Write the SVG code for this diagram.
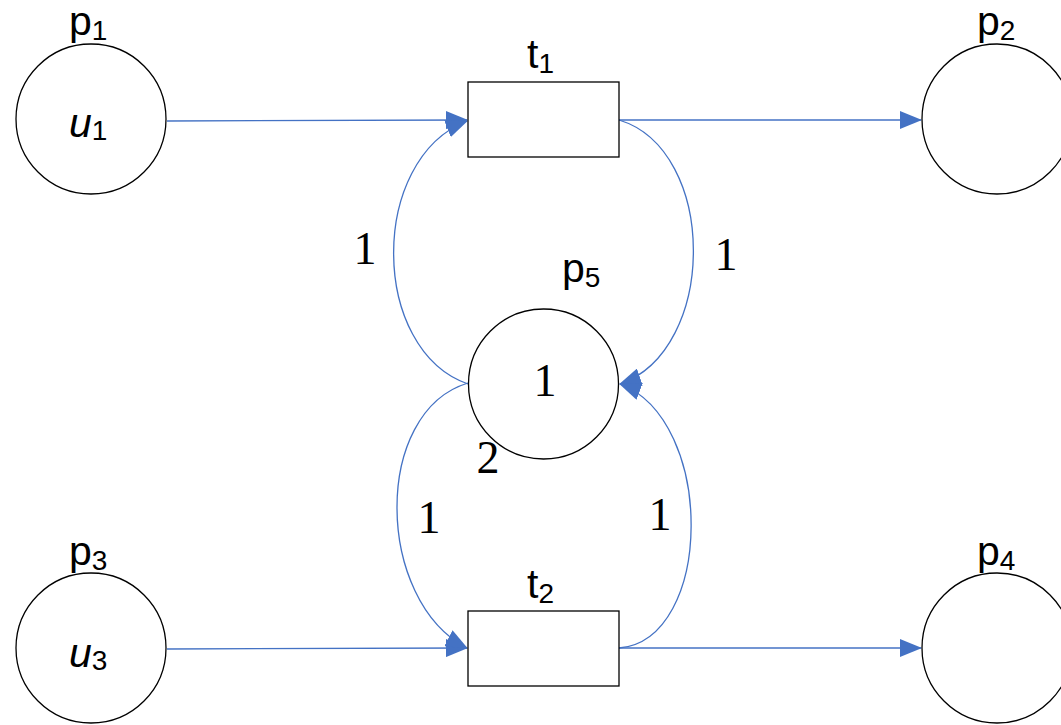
<svg xmlns="http://www.w3.org/2000/svg" width="1061" height="725" viewBox="0 0 1061 725">
<style>
.node{fill:#fff;stroke:#000;stroke-width:1.3}
.arc{fill:none;stroke:#4472C4;stroke-width:1.3}
.sub{font-size:28px}
.sans{font-family:'Liberation Sans',Arial,Helvetica,sans-serif;font-size:41px}
.serif{font-family:'Liberation Serif','Times New Roman',Times,serif;font-size:46px;text-anchor:middle}
</style>
<defs>
<marker id="ah" markerUnits="userSpaceOnUse" markerWidth="22" markerHeight="18" viewBox="0 0 22 18" refX="21" refY="9" orient="auto">
<path d="M0,0 L22,9 L0,18 z" fill="#4472C4"/>
</marker>
</defs>
<rect width="1061" height="725" fill="#fff"/>
<g id="connectors">
<path class="arc" d="M167,121 L467,120" marker-end="url(#ah)"/>
<path class="arc" d="M619,120 L921,120" marker-end="url(#ah)"/>
<path class="arc" d="M167,649 L467,648" marker-end="url(#ah)"/>
<path class="arc" d="M619,648 L921,648" marker-end="url(#ah)"/>
<path class="arc" d="M468,384 C370,350 368,160 467,121" marker-end="url(#ah)"/>
<path class="arc" d="M619,120 C718,150 718,350 620,384" marker-end="url(#ah)"/>
<path class="arc" d="M468,383 C372,412 375,600 467,648" marker-end="url(#ah)"/>
<path class="arc" d="M619,648 C714,640 716,420 620,384" marker-end="url(#ah)"/>
</g>
<g fill="#000">
<g id="p1">
<circle class="node" cx="91" cy="119" r="75"/>
<text class="sans" x="69" y="35">p<tspan class="sub" dy="5">1</tspan></text>
<text class="sans" x="69" y="137" font-style="italic">u<tspan class="sub" dy="3" font-style="normal">1</tspan></text>
</g>
<g id="p2">
<circle class="node" cx="997" cy="119" r="75"/>
<text class="sans" x="977" y="35">p<tspan class="sub" dy="5">2</tspan></text>
</g>
<g id="p3">
<circle class="node" cx="91" cy="648" r="75"/>
<text class="sans" x="69" y="565">p<tspan class="sub" dy="5">3</tspan></text>
<text class="sans" x="69" y="667" font-style="italic">u<tspan class="sub" dy="3" font-style="normal">3</tspan></text>
</g>
<g id="p4">
<circle class="node" cx="997" cy="648" r="75"/>
<text class="sans" x="977" y="565">p<tspan class="sub" dy="5">4</tspan></text>
</g>
<g id="p5">
<circle class="node" cx="543.5" cy="384" r="75"/>
<text class="sans" x="562" y="282">p<tspan class="sub" dy="5">5</tspan></text>
<text class="serif" x="545" y="396">1</text>
</g>
<g id="t1">
<rect class="node" x="468" y="82" width="151" height="75"/>
<text class="sans" x="527" y="68">t<tspan class="sub" dy="5">1</tspan></text>
</g>
<g id="t2">
<rect class="node" x="468" y="611" width="151" height="75"/>
<text class="sans" x="527" y="598">t<tspan class="sub" dy="5">2</tspan></text>
</g>
<g id="weights">
<text class="serif" x="365" y="264">1</text>
<text class="serif" x="726" y="270">1</text>
<text class="serif" x="429" y="533">1</text>
<text class="serif" x="660" y="530">1</text>
<text class="serif" x="488" y="473">2</text>
</g>
</g>
</svg>
